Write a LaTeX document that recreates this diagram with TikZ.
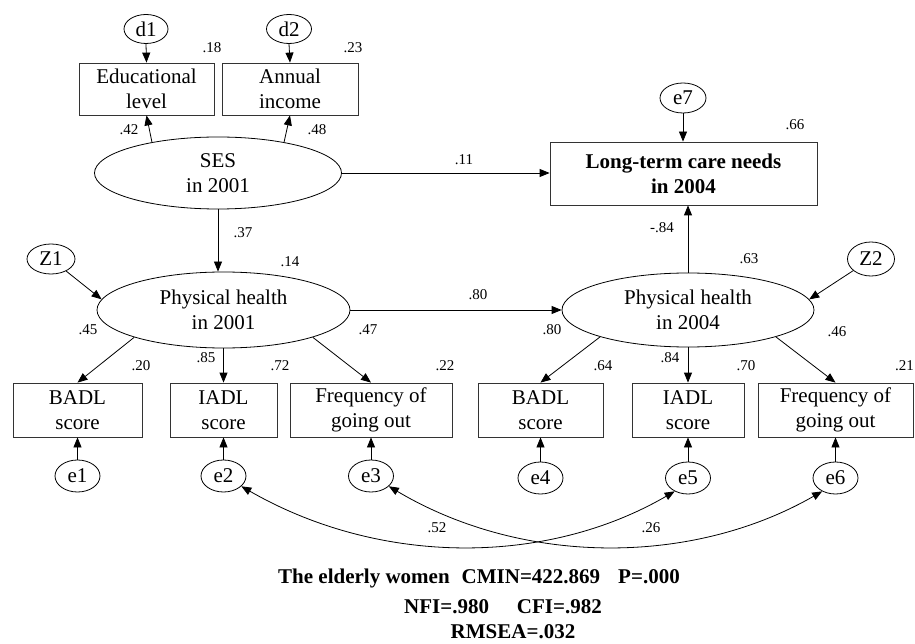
\documentclass[tikz,border=0pt]{standalone}
\usepackage{fontspec}
\setmainfont{Liberation Serif}
\usetikzlibrary{shapes.geometric,arrows.meta}
\newcommand\fmain{\fontsize{21}{25}\selectfont}
\newcommand\fcoef{\fontsize{15}{18}\selectfont}
\newcommand\fbot{\fontsize{21}{25}\selectfont\bfseries}
\begin{document}
\begin{tikzpicture}[x=1pt,y=-1pt,
  obsbox/.style={draw=black!80, line width=0.8pt, rectangle, inner sep=0pt, align=center, font=\fmain},
  latent/.style={draw, ellipse, line width=0.8pt, inner sep=0pt, align=center, font=\fmain},
  errnode/.style={draw, ellipse, line width=0.8pt, inner sep=0pt, font=\fmain, minimum width=45pt, minimum height=32pt},
  coef/.style={font=\fcoef, inner sep=0pt},
  bottxt/.style={font=\fbot, inner sep=0pt},
  arr/.style={line width=0.8pt, -{Triangle[length=10pt,width=8pt]}},
  dbl/.style={line width=0.8pt, {Triangle[length=10pt,width=8pt]}-{Triangle[length=10pt,width=8pt]}},
]
\useasboundingbox (0,0) rectangle (915,644);

% top indicators
\node[errnode, minimum width=44pt, minimum height=29pt] (d1) at (146,29) {d1};
\node[errnode, minimum width=45pt, minimum height=29pt] (d2) at (289,29) {d2};
\node[obsbox, minimum width=135pt, minimum height=52pt] (edu) at (146.5,89) {Educational\\level};
\node[obsbox, minimum width=136pt, minimum height=52pt] (ann) at (290,89) {Annual\\income};

\node[latent, minimum width=247pt, minimum height=72pt] (ses) at (218,173) {SES\\in 2001};
\node[obsbox, minimum width=267pt, minimum height=63pt, font=\fmain\bfseries] (ltc) at (683.5,173.5) {Long-term care needs\\in 2004};
\node[errnode, minimum width=46pt, minimum height=30pt] (e7) at (683,98) {e7};

\node[latent, minimum width=253pt, minimum height=76pt] (ph1) at (223.5,310) {Physical health\\in 2001};
\node[latent, minimum width=252pt, minimum height=74pt] (ph2) at (688,310) {Physical health\\in 2004};
\node[errnode, minimum width=48pt, minimum height=30pt] (z1) at (51,259) {Z1};
\node[errnode, minimum width=47pt, minimum height=34pt] (z2) at (871,259) {Z2};

% lower indicators
\node[obsbox, minimum width=129pt, minimum height=54pt] (badl1) at (77.5,410) {BADL\\score};
\node[obsbox, minimum width=107pt, minimum height=54pt] (iadl1) at (223.5,410) {IADL\\score};
\node[obsbox, minimum width=162pt, minimum height=54pt] (freq1) at (371,410) {Frequency of\\going out};
\node[obsbox, minimum width=125pt, minimum height=54pt] (badl2) at (540.5,410) {BADL\\score};
\node[obsbox, minimum width=112pt, minimum height=54pt] (iadl2) at (688,410) {IADL\\score};
\node[obsbox, minimum width=155pt, minimum height=54pt] (freq2) at (835.5,410) {Frequency of\\going out};

\node[errnode] (e1) at (77.5,476) {e1};
\node[errnode] (e2) at (223.5,476) {e2};
\node[errnode] (e3) at (371,476) {e3};
\node[errnode] (e4) at (540.5,478) {e4};
\node[errnode] (e5) at (688,478) {e5};
\node[errnode] (e6) at (835.5,478) {e6};

% connectors
\draw[arr] (d1.south) -- (edu.north);
\draw[arr] (d2.south) -- (ann.north);
\draw[arr] (ses.155) -- (edu.south);
\draw[arr] (ses.25) -- (ann.south);
\draw[arr] (ses.east) -- (ses.east -| ltc.west);
\draw[arr] (e7.south) -- (e7.south |- ltc.north);
\draw[arr] (ses.south) -- (ses.south |- ph1.north);
\draw[arr] (ph1.east) -- (ph2.west);
\draw[arr] (ph2.north) -- (ph2.north |- ltc.south);
\draw[arr] (z1) -- (ph1.175);
\draw[arr] (z2) -- (ph2.5);
\draw[arr] (ph1.197) -- (badl1.north);
\draw[arr] (ph1.south) -- (iadl1.north);
\draw[arr] (ph1.-17) -- (freq1.north);
\draw[arr] (ph2.197) -- (badl2.north);
\draw[arr] (ph2.south) -- (iadl2.north);
\draw[arr] (ph2.-17) -- (freq2.north);
\draw[arr] (e1.north) -- (e1.north |- badl1.south);
\draw[arr] (e2.north) -- (e2.north |- iadl1.south);
\draw[arr] (e3.north) -- (e3.north |- freq1.south);
\draw[arr] (e4.north) -- (e4.north |- badl2.south);
\draw[arr] (e5.north) -- (e5.north |- iadl2.south);
\draw[arr] (e6.north) -- (e6.north |- freq2.south);
\draw[dbl] (e2.-30) .. controls (380,566) and (546,566) .. (e5.-135);
\draw[dbl] (e3.-30) .. controls (523,566) and (692,566) .. (e6.-135);

% coefficients
\node[coef] (c18) at (212,48) {.18};
\node[coef] (c23) at (353,48) {.23};
\node[coef] (c42) at (129,130) {.42};
\node[coef] (c48) at (317,130) {.48};
\node[coef] (c11) at (464,160) {.11};
\node[coef] (c66) at (795,125) {.66};
\node[coef] (c37) at (243,233) {.37};
\node[coef] (c14) at (290,262) {.14};
\node[coef] (cm84) at (662,228) {-.84};
\node[coef] (c63) at (749,259) {.63};
\node[coef] (c80a) at (478,295) {.80};
\node[coef] (c45) at (88,330) {.45};
\node[coef] (c20) at (141,366) {.20};
\node[coef] (c85) at (206,358) {.85};
\node[coef] (c72) at (280,366) {.72};
\node[coef] (c47) at (368,330) {.47};
\node[coef] (c22) at (445,366) {.22};
\node[coef] (c80b) at (552,330) {.80};
\node[coef] (c64) at (603,366) {.64};
\node[coef] (c84) at (670,358) {.84};
\node[coef] (c70) at (746,366) {.70};
\node[coef] (c46) at (837,332) {.46};
\node[coef, anchor=east] (c21) at (914,366) {.21};
\node[coef] (c52) at (437,528) {.52};
\node[coef] (c26) at (651,528) {.26};

% fit statistics
\node[bottxt] (fit1) at (479,578) {The elderly women\hspace{12pt}CMIN=422.869\hspace{18pt}P=.000};
\node[bottxt] (fit2) at (503,607) {NFI=.980\hspace{28pt}CFI=.982};
\node[bottxt] (fit3) at (513,632) {RMSEA=.032};
\end{tikzpicture}
\end{document}
